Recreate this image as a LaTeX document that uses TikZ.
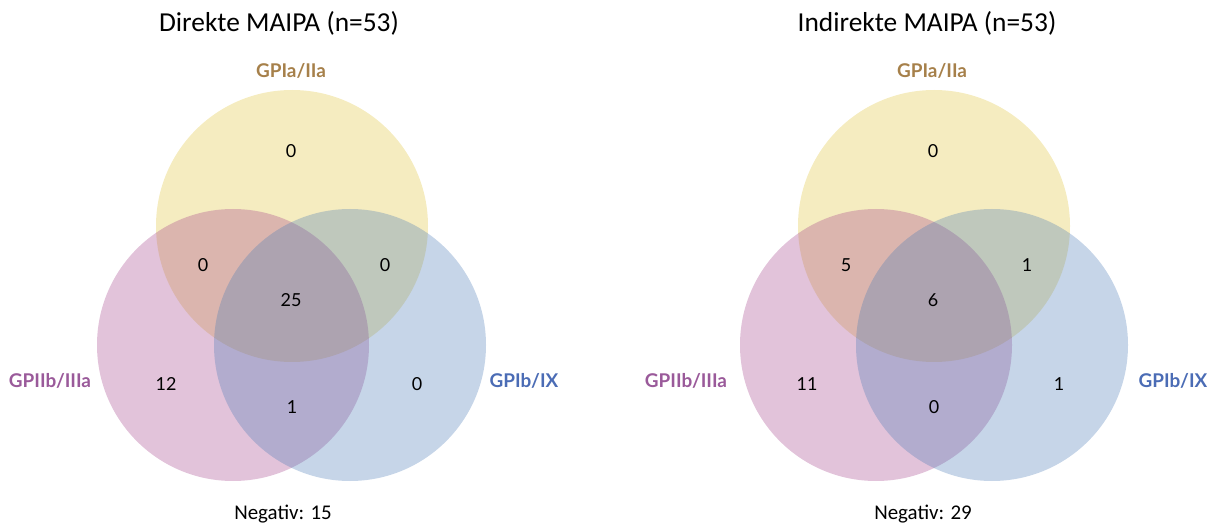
\documentclass[tikz,border=0pt]{standalone}
\usepackage{fontspec}
\setmainfont{Carlito}
\newfontfamily\numfont{Lato}
\definecolor{cyel}{HTML}{E0C43A}
\definecolor{cpink}{HTML}{A4448B}
\definecolor{cblue}{HTML}{4D7CB7}
\definecolor{tyel}{HTML}{A6804A}
\definecolor{tpink}{HTML}{9A5A9A}
\definecolor{tblue}{HTML}{4B6CB5}
\tikzset{
  setcircle/.style={fill opacity=0.32},
  title/.style={anchor=base,inner sep=0pt,font=\fontsize{27.5}{27.5}\selectfont},
  neg/.style={anchor=base,inner sep=0pt,font=\fontsize{21}{21}\selectfont},
  setlabel/.style={anchor=base,inner sep=0pt,font=\numfont\bfseries\fontsize{19}{19}\selectfont},
  num/.style={anchor=center,inner sep=0pt,font=\numfont\fontsize{18}{18}\selectfont},
}
\begin{document}
\begin{tikzpicture}[x=1bp,y=-1bp]
\useasboundingbox (0,0) rectangle (1216,527);
% ---------- left Venn ----------
\fill[setcircle,cyel] (292,226) circle (136);
\fill[setcircle,cpink] (233,345) circle (136);
\fill[setcircle,cblue] (350,345) circle (136);
\node[title] (t1) at (279,32) {Direkte MAIPA (n=53)};
\node[setlabel,text=tyel] (a1) at (291,77.5) {GPIa/IIa};
\node[setlabel,text=tpink] (b1) at (50,387.5) {GPIIb/IIIa};
\node[setlabel,text=tblue] (c1) at (524,387.5) {GPIb/IX};
\node[num] (n1a) at (291,151) {0};
\node[num] (n1ab) at (203,265) {0};
\node[num] (n1ac) at (385,265) {0};
\node[num] (n1abc) at (291,300) {25};
\node[num] (n1b) at (166,384) {12};
\node[num] (n1bc) at (292,407) {1};
\node[num] (n1c) at (417,384) {0};
\node[neg] (g1) at (283,519.5) {Negativ: 15};
% ---------- right Venn ----------
\fill[setcircle,cyel] (934,226) circle (136);
\fill[setcircle,cpink] (876,345) circle (136);
\fill[setcircle,cblue] (992,345) circle (136);
\node[title] (t2) at (927,32) {Indirekte MAIPA (n=53)};
\node[setlabel,text=tyel] (a2) at (932,77.5) {GPIa/IIa};
\node[setlabel,text=tpink] (b2) at (686,387.5) {GPIIb/IIIa};
\node[setlabel,text=tblue] (c2) at (1173,387.5) {GPIb/IX};
\node[num] (n2a) at (933,151) {0};
\node[num] (n2ab) at (846,265) {5};
\node[num] (n2ac) at (1027,265) {1};
\node[num] (n2abc) at (933,300) {6};
\node[num] (n2b) at (807,384) {11};
\node[num] (n2bc) at (934,407) {0};
\node[num] (n2c) at (1059,384) {1};
\node[neg] (g2) at (923,519.5) {Negativ: 29};
\end{tikzpicture}
\end{document}
